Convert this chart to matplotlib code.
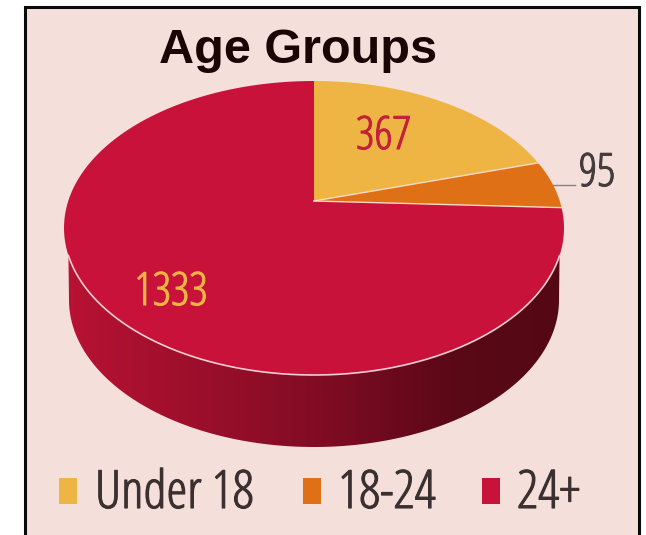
import matplotlib
matplotlib.use("Agg")
import matplotlib.pyplot as plt
import matplotlib.patheffects as pe
from matplotlib.patches import Rectangle, Polygon
import numpy as np

plt.rcParams['font.family'] = ['Liberation Sans', 'DejaVu Sans']

title = "Age Groups"
labels = ["Under 18", "18-24", "24+"]
values = [367, 95, 1333]
colors = ["#efb544", "#e07015", "#c8123a"]
label_colors = ["#c4203a", "#453c3c", "#efb544"]

W, H = 646, 535
BG = "#f5dfdb"

# pie is a unit circle seen in perspective, cx/cy is the middle of the ellipse
cx, cy = 314, 228
ry = 147
rx = 250
apex_up = 27
k = apex_up / ry
a = rx * np.sqrt(1 - k * k)


def project(theta, r=1.0):
    # theta is clockwise from 12 o'clock
    X = r * np.sin(theta)
    Y = r * np.cos(theta)
    w = 1 + k * Y
    return cx + a * X / w, cy - (ry * Y + apex_up) / w


def num_text(x, y, s, color, size, ha="center"):
    # condensed face is light, a thin stroke brings it up to the reference weight
    ax.text(x, y, s, color=color, fontsize=size, family=["Open Sans", "DejaVu Sans"],
            stretch="condensed", weight="medium", ha=ha, va="baseline", zorder=4,
            path_effects=[pe.withStroke(linewidth=0.8, foreground=color)])


fig = plt.figure(figsize=(W / 100, H / 100), dpi=100)
fig.patch.set_facecolor("white")
ax = fig.add_axes([0, 0, 1, 1])
ax.axis("off")

# background + black frame, bottom runs off the picture
ax.add_patch(Rectangle((24.5, 7), 614, 540, fc=BG, ec="#0a0a0a", lw=2.2, zorder=0))

# side wall, gradient clipped to rim + lower ellipse
t = np.linspace(np.pi / 2, 3 * np.pi / 2, 600)
rim_x, rim_y = project(t)
keep = rim_y >= 255
rim_x, rim_y = rim_x[keep], rim_y[keep]
wall_rx, wall_cy, wall_ry = 245, 300, 147
p = np.linspace(np.pi, 0, 300)
low_x = cx + wall_rx * np.cos(p)
low_y = wall_cy + wall_ry * np.sin(p)
# rim comes right to left, lower edge goes left to right
wall = Polygon(np.c_[np.r_[rim_x, low_x], np.r_[rim_y, low_y]], closed=True,
               transform=ax.transData, fc="none", ec="none")
stops = np.array([[186, 18, 52], [130, 12, 36], [90, 8, 22], [84, 8, 20]]) / 255
frac = np.linspace(0, 1, 500)
grad = np.array([np.interp(frac, [0, 0.5, 0.78, 1], stops[:, i]) for i in range(3)]).T[None, :, :]
ax.add_patch(wall)
im = ax.imshow(grad, extent=[60, 570, 460, 240], aspect="auto", zorder=1)
im.set_clip_path(wall)

ax.set_xlim(0, W)
ax.set_ylim(H, 0)

# top face, wedges from the values
edges = np.cumsum([0] + values) / sum(values) * 2 * np.pi
x0, y0 = project(0.0, 0.0)
for i in range(len(values)):
    th = np.linspace(edges[i], edges[i + 1], 200)
    x, y = project(th)
    ax.fill(np.r_[x0, x], np.r_[y0, y], color=colors[i], lw=0, zorder=2)

# light lines between slices and round the front edge
for e in edges[1:3]:
    x, y = project(e)
    ax.plot([x0, x], [y0, y], color="#f6d9c8", lw=1, zorder=3)
ax.plot(rim_x, rim_y, color="#f3cdd0", lw=1.2, zorder=3)

# value labels
num_text(383.5, 149, str(values[0]), label_colors[0], 33)
num_text(597, 186, str(values[1]), label_colors[1], 33)
num_text(171, 305, str(values[2]), label_colors[2], 33)
ax.plot([553, 575], [185, 185], color="#8a8080", lw=1, zorder=3)

ax.text(298, 63, title, color="#1a0505", fontsize=35, fontweight="bold", ha="center", va="baseline", zorder=4)

# legend
leg_box = [59, 303, 482]
leg_text = [95, 338, 517]
for i in range(len(labels)):
    ax.add_patch(Rectangle((leg_box[i], 478), 18, 26, fc=colors[i], ec="none", zorder=4))
    num_text(leg_text[i], 508, labels[i], "#3a3030", 38, ha="left")

fig.savefig("out.png", dpi=100)
